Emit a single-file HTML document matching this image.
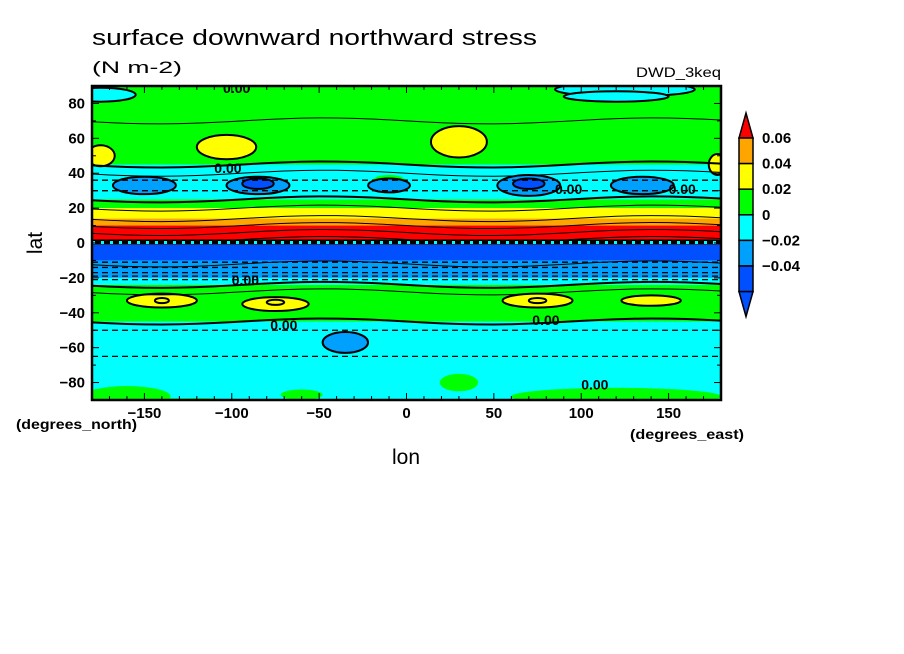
<!DOCTYPE html>
<html><head><meta charset="utf-8">
<style>
body{margin:0;background:#fff;width:904px;height:654px;overflow:hidden}
svg{display:block;font-family:"Liberation Sans",sans-serif}
</style></head>
<body>
<svg id="chart" width="904" height="654">
<text x="92" y="45" font-size="22" textLength="445" lengthAdjust="spacingAndGlyphs">surface downward northward stress</text>
<text x="92" y="73" font-size="17" textLength="90" lengthAdjust="spacingAndGlyphs">(N m-2)</text>
<text x="636" y="77" font-size="14" textLength="85" lengthAdjust="spacingAndGlyphs">DWD_3keq</text>
<text x="16" y="429" font-size="14" font-weight="bold" textLength="121" lengthAdjust="spacingAndGlyphs">(degrees_north)</text>
<text x="630" y="439" font-size="14" font-weight="bold" textLength="114" lengthAdjust="spacingAndGlyphs">(degrees_east)</text>
<text x="406" y="464" font-size="21" text-anchor="middle">lon</text>
<text x="0" y="0" font-size="21" text-anchor="middle" transform="translate(42,243) rotate(-90)">lat</text>
<defs><clipPath id="pc"><rect x="92" y="86" width="629" height="314"/></clipPath></defs>
<g id="plot" clip-path="url(#pc)"></g>
<g id="lines" clip-path="url(#pc)"></g>
<g id="axes"></g>
<g id="cbar"></g>
</svg>
<script>
// zonal bands (lat top, lat bottom, level index)
const bandTop=[90,45,25,20,14,10,2,-1,-10,-20,-24,-45];
const bandBot=[45,25,20,14,10,2,-1,-10,-20,-24,-45,-90];
const bandLvl=[3,4,3,2,1,0,7,6,5,4,3,4];
// blobs: lon, lat, radius lon, radius lat, level
const blobLon=[-175,-103,30,178,-10,-150,-85,-10,70,135,-85,70,-140,-75,75,140,-140,-75,75,-35,30,-160,125,-120,-135,0,120,-175,-60,120];
const blobLat=[50,55,58,45,35,33,33,33,33,33,34,34,-33,-35,-33,-33,-33,-34,-33,-57,-80,-88,88,-93,-92,-93,-88,85,-87,84];
const blobRx=[8,17,16,5,10,18,18,12,18,18,9,9,20,19,20,17,4,5,5,13,11,25,40,30,20,40,60,20,12,30];
const blobRy=[6,7,9,6,4,5,5,4,6,5,3,3,4,4,4,3,1.5,1.5,1.5,6,5,6,4,4,3,3,5,4,3,3];
const blobLvl=[2,2,2,2,3,5,5,5,5,5,6,6,2,2,2,2,2,2,2,5,3,3,4,3,3,3,3,4,3,4];
const colors=['#ff0000','#ffa500','#ffff00','#00ff00','#00ffff','#00a0ff','#0050ff','#000000'];
const cbLabels=['0.06','0.04','0.02','0','\u22120.02','\u22120.04'];
const xTicks=[-150,-100,-50,0,50,100,150];
const yTicks=[80,60,40,20,0,-20,-40,-60,-80];
const NS='http://www.w3.org/2000/svg';
const X=lon=>92+(lon+180)/360*629;
const Y=lat=>86+(90-lat)/180*314;
function mk(tag,attrs,parent){const e=document.createElementNS(NS,tag);for(const k in attrs)e.setAttribute(k,attrs[k]);parent.appendChild(e);return e;}
const plot=document.getElementById('plot');
bandTop.forEach((t,i)=>{
  const r=mk('rect',{x:92,y:Y(t),width:629,height:Y(bandBot[i])-Y(t),fill:colors[bandLvl[i]]},plot);
  
  
});
blobLon.forEach((lo,i)=>{
  const e=mk('ellipse',{cx:X(lo),cy:Y(blobLat[i]),rx:blobRx[i]/360*629,ry:blobRy[i]/180*314,fill:colors[blobLvl[i]],stroke:'#000','stroke-width':blobLvl[i]==3?0:2},plot);
  
  
});
const lines=document.getElementById('lines');
const solidLats=[45,25,20,14,10,6,2,-24,-45,-28,40,-12,70];
solidLats.forEach((la,i)=>{
  let d='';for(let lo=-180;lo<=180;lo+=10){d+=(lo==-180?'M':'L')+X(lo)+','+(Y(la)+3*Math.sin(lo/30));}
  const p=mk('path',{d:d,fill:'none',stroke:'#000','stroke-width':la==45||la==-24||la==-45||la==25?2:1},lines);
  
  
});
[-11,-14,-17,-19,-21,-50,-65,30,36].forEach(la=>{
  const p=mk('line',{x1:92,x2:721,y1:Y(la),y2:Y(la),stroke:'#000','stroke-width':1.3,'stroke-dasharray':'6,4'},lines);
  
  
});
const dot=mk('line',{x1:92,x2:721,y1:Y(0.3),y2:Y(0.3),stroke:'#00ffff','stroke-width':3,'stroke-dasharray':'3,6'},lines);


[[-105,86],[-110,40],[85,28],[150,28],[-100,-24],[-78,-50],[72,-47],[100,-84]].forEach(p=>{
  const t=mk('text',{x:X(p[0]),y:Y(p[1]),'font-size':14,'font-weight':'bold',fill:'#000'},lines);t.textContent='0.00';
  
  
});
const ax=document.getElementById('axes');
mk('rect',{x:92,y:86,width:629,height:314,fill:'none',stroke:'#000','stroke-width':2.5},ax);
for(let lo=-180;lo<=180;lo+=10){const l=lo%50==0?7:4;mk('line',{x1:X(lo),x2:X(lo),y1:400,y2:400-l,stroke:'#000'},ax);mk('line',{x1:X(lo),x2:X(lo),y1:86,y2:86+l,stroke:'#000'},ax);}
for(let la=-90;la<=90;la+=10){const l=la%20==0?7:4;mk('line',{x1:92,x2:92+l,y1:Y(la),y2:Y(la),stroke:'#000'},ax);mk('line',{x1:721,x2:721-l,y1:Y(la),y2:Y(la),stroke:'#000'},ax);}
xTicks.forEach(v=>{const t=mk('text',{x:X(v),y:418,'font-size':15,'font-weight':'bold','text-anchor':'middle'},ax);t.textContent=v<0?'\u2212'+(-v):v;
  
  });
yTicks.forEach(v=>{const t=mk('text',{x:85,y:Y(v)+5,'font-size':15,'font-weight':'bold','text-anchor':'end'},ax);t.textContent=v<0?'\u2212'+(-v):v;
  
  });
const cb=document.getElementById('cbar');
const cx0=739,cw=14,cy0=138,ch=25.6;
mk('polygon',{points:`${cx0},${cy0} ${cx0+cw},${cy0} ${cx0+cw/2},${cy0-25}`,fill:colors[0],stroke:'#000','stroke-width':1.5},cb);
for(let i=1;i<=6;i++){mk('rect',{x:cx0,y:cy0+(i-1)*ch,width:cw,height:ch,fill:colors[i],stroke:'#000','stroke-width':1.5},cb);}
mk('polygon',{points:`${cx0},${cy0+6*ch} ${cx0+cw},${cy0+6*ch} ${cx0+cw/2},${cy0+6*ch+25}`,fill:colors[6],stroke:'#000','stroke-width':1.5},cb);
cbLabels.forEach((s,i)=>{const t=mk('text',{x:762,y:cy0+i*ch+5,'font-size':15,'font-weight':'bold'},cb);t.textContent=s;
  
  });
</script>
</body></html>
